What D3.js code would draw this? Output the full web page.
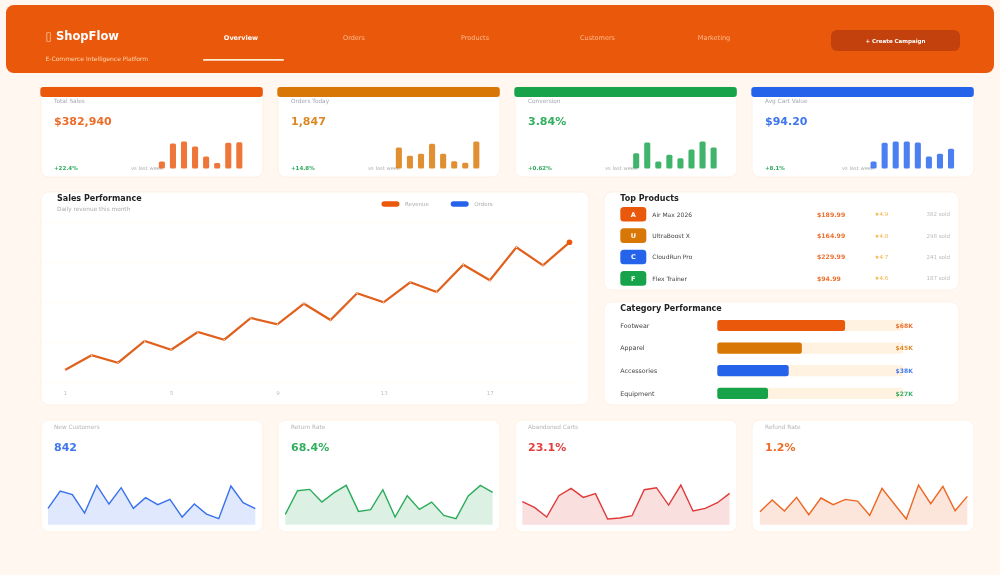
<!DOCTYPE html>
<html><head><meta charset="utf-8">
<style>html,body{margin:0;padding:0;background:#fff7f0}svg{display:block;filter:blur(.35px)}text{font-family:"DejaVu Sans",sans-serif}</style>
<script src="https://cdn.jsdelivr.net/npm/d3@7/dist/d3.min.js"></script>
</head><body><svg id="c" width="1000" height="575"></svg>
<script>
const navItems=["Overview","Orders","Products","Customers","Marketing"];
const kpiLabels=["Total Sales","Orders Today","Conversion","Avg Cart Value"];
const kpiValues=["$382,940","1,847","3.84%","$94.20"];
const kpiDeltas=["+22.4%","+14.8%","+0.62%","+8.1%"];
const kpiColors=["#ea580c","#d97706","#16a34a","#2563eb"];
const kpiBars1=[7,25,27,22,12,5.5,25.7,26.3];
const kpiBars2=[21,12.7,14.7,24.7,14.7,7.3,5.7,27];
const kpiBars3=[15.3,26,7,13.7,10.3,19,27,21];
const kpiBars4=[7,25.7,27,27,26,12,14.7,19.7];
const days=d3.range(1,21);
const revenue=[1270,2740,2000,4170,3300,5070,4300,6470,5840,7900,6270,8940,8040,10040,9070,11800,10240,13540,11740,14040];
const gridTicks=[0,4000,8000,12000,16000];
const dayTicks=[1,5,9,13,17];
const productNames=["Air Max 2026","UltraBoost X","CloudRun Pro","Flex Trainer"];
const productPrices=["$189.99","$164.99","$229.99","$94.99"];
const productRatings=["★4.9","★4.8","★4.7","★4.6"];
const productSold=["382 sold","298 sold","241 sold","187 sold"];
const productColors=["#ea580c","#d97706","#2563eb","#16a34a"];
const categories=["Footwear","Apparel","Accessories","Equipment"];
const categoryValues=[68,45,38,27];
const miniLabels=["New Customers","Return Rate","Abandoned Carts","Refund Rate"];
const miniValues=["842","68.4%","23.1%","1.2%"];
const miniColors=["#2563eb","#16a34a","#dc2626","#ea580c"];
const mini1=[49,101,90,35,118,62,111,49,81,60,76,23,62,32,18,116,66,48];
const mini2=[31,102,106,68,96,118,40,45,105,23,87,46,68,28,18,86,118,97];
const mini3=[69,52,23,87,109,82,93,17,20,27,105,111,59,119,41,49,66,94];
const mini4=[39,74,41,82,30,80,60,76,71,28,109,63,17,119,63,115,42,85];

const svg=d3.select("#c");
const T=(g,x,y,s,size,fill,o={})=>g.append("text").attr("x",x).attr("y",y).text(s).attr("font-size",size).attr("fill",fill)
  .attr("font-weight",o.w||400).attr("text-anchor",o.a||"start").attr("opacity",o.o==null?1:o.o);
const card=(x,y,w,h)=>svg.append("rect").attr("x",x).attr("y",y).attr("width",w).attr("height",h).attr("rx",8).attr("fill","#fff").attr("stroke","#fdeee1").attr("stroke-width",.8);

// header
svg.append("rect").attr("x",6).attr("y",5).attr("width",988).attr("height",68).attr("rx",8).attr("fill","#ea580c");
T(svg,45.5,40,"▯",11.5,"#fed7aa");
T(svg,56,40,"ShopFlow",11.5,"#fff",{w:700});
T(svg,45.5,61,"E-Commerce Intelligence Platform",6,"#fed7aa");
const navX=[241,354,475,597.5,714];
navItems.forEach((n,i)=>T(svg,navX[i],40.3,n,6.5,i?"#fdba8c":"#fff",{a:"middle",w:i?400:700}));
svg.append("rect").attr("x",203).attr("y",59).attr("width",81).attr("height",1.8).attr("rx",1).attr("fill","#ffedd5");
svg.append("rect").attr("x",831).attr("y",30).attr("width",129).attr("height",21).attr("rx",6).attr("fill","#c2410c");
T(svg,895.5,43,"+ Create Campaign",5.5,"#fff",{a:"middle",w:700});

// KPI cards
const kpiX=[41,278,515,752];
const kpiSeries=[kpiBars1,kpiBars2,kpiBars3,kpiBars4];
const barFirst=[162,399,636.3,873.7];
const barH=d3.scaleLinear().domain([0,27]).range([168.5,141.5]);
kpiX.forEach((x,i)=>{
  card(x,87,222,90);
  svg.append("rect").attr("x",x-.7).attr("y",87).attr("width",222.5).attr("height",10).attr("rx",3).attr("fill",kpiColors[i]);
  T(svg,x+13,103,kpiLabels[i],5.8,"#a3a8b4");
  T(svg,x+13,124.5,kpiValues[i],11,kpiColors[i],{w:700,o:.88});
  T(svg,x+13,170,kpiDeltas[i],5.5,"#16a34a",{w:700,o:.9});
  T(svg,x+90,170.2,"vs last week",5.2,"#b0b0b0");
  const bx=d3.scaleBand().domain(d3.range(8)).range([barFirst[i]-5.6,barFirst[i]-5.6+88.4]).paddingInner(0.45).paddingOuter(0.22);
  svg.append("g").selectAll("rect").data(kpiSeries[i]).join("rect")
    .attr("x",(d,j)=>bx(j)).attr("width",bx.bandwidth()).attr("y",d=>barH(d)).attr("height",d=>barH(0)-barH(d))
    .attr("rx",1.5).attr("fill",kpiColors[i]).attr("opacity",.82);
});

// main chart
card(41,192,548,213);
T(svg,57,200.5,"Sales Performance",8,"#222",{w:700});
T(svg,57,210.5,"Daily revenue this month",5.8,"#aaa");
const xm=d3.scaleLinear().domain([1,20]).range([65,569.5]);
const ym=d3.scaleLinear().domain([0,16000]).range([382.7,222.7]);
svg.append("g").selectAll("line").data(gridTicks).join("line")
  .attr("x1",42).attr("x2",578).attr("y1",d=>ym(d)).attr("y2",d=>ym(d)).attr("stroke","#fff8f1").attr("stroke-width",.8);
const xAxis=d3.axisBottom(xm).tickValues(dayTicks).tickSize(0).tickPadding(0).tickFormat(d3.format("d"));
const ax=svg.append("g").attr("transform","translate(0,391)").call(xAxis);
ax.select(".domain").remove();
ax.selectAll("text").attr("font-size",5.5).attr("fill","#bdbdbd").attr("font-family",'"DejaVu Sans",sans-serif');
svg.append("path").datum(revenue).attr("d",d3.line().x((d,i)=>xm(days[i])).y(d=>ym(d)))
  .attr("fill","none").attr("stroke","#e0601c").attr("stroke-width",2.2).attr("stroke-linejoin","miter");
svg.append("g").selectAll("circle").data(revenue).join("circle")
  .attr("cx",(d,i)=>xm(days[i])).attr("cy",d=>ym(d)).attr("r",(d,i)=>i===19?2.8:.7)
  .attr("fill",(d,i)=>i===19?"#ea580c":"#ffe9dc");
[[381.5,"Revenue","#ea580c"],[450.7,"Orders","#2563eb"]].forEach(([x,s,c])=>{
  svg.append("rect").attr("x",x).attr("y",201.3).attr("width",18).attr("height",5.5).attr("rx",2.7).attr("fill",c);
  T(svg,x+23.5,206.2,s,5.5,"#aaa");
});

// top products
card(604,192,355,98);
T(svg,620.3,200.5,"Top Products",8,"#222",{w:700});
const yp=d3.scalePoint().domain(productNames).range([214.3,278.4]);
productNames.forEach((n,i)=>{
  const y=yp(n);
  svg.append("rect").attr("x",620.3).attr("y",y-7.3).attr("width",26).attr("height",14.6).attr("rx",3.5).attr("fill",productColors[i]);
  T(svg,633.3,y+2.2,n[0],6.5,"#fff",{a:"middle",w:700});
  T(svg,652.3,y+2.2,n,6,"#444");
  T(svg,817,y+2.2,productPrices[i],6.2,"#ea580c",{w:700,o:.85});
  T(svg,874.5,y+2,productRatings[i],5.5,"#f5b040");
  T(svg,950,y+2,productSold[i],5.5,"#bbb",{a:"end"});
});

// category performance
card(604,302,355,103);
T(svg,620.3,310.5,"Category Performance",8,"#222",{w:700});
const xc=d3.scaleLinear().domain([0,99]).range([717.3,903.3]);
const yc=d3.scalePoint().domain(categories).range([325.5,393.3]);
categories.forEach((n,i)=>{
  const y=yc(n),c=productColors[i];
  T(svg,620.3,y+2.2,n,6.3,"#444");
  svg.append("rect").attr("x",xc(0)).attr("y",y-5.6).attr("width",xc(99)-xc(0)).attr("height",11.2).attr("rx",2.5).attr("fill","#ffedd5").attr("opacity",.75);
  svg.append("rect").attr("x",xc(0)).attr("y",y-5.6).attr("width",xc(categoryValues[i])-xc(0)).attr("height",11.2).attr("rx",2.5).attr("fill",c);
  T(svg,912.8,y+2.2,"$"+categoryValues[i]+"K",6,c,{a:"end",w:700,o:.85});
});

// mini cards
const miniSeries=[mini1,mini2,mini3,mini4];
const miniFirst=[48,285.3,522.3,760];
const ys=d3.scaleLinear().domain([0,120]).range([524.7,484.7]);
kpiX.forEach((x,i)=>{
  card(x,420,222,112);
  T(svg,x+13,428.5,miniLabels[i],5.8,"#b5b5bb");
  T(svg,x+13,451,miniValues[i],11,miniColors[i],{w:700,o:.88});
  const xs=d3.scaleLinear().domain([0,17]).range([miniFirst[i],miniFirst[i]+207.3]);
  svg.append("path").datum(miniSeries[i]).attr("d",d3.area().x((d,j)=>xs(j)).y0(ys(0)).y1(d=>ys(d)))
    .attr("fill",miniColors[i]).attr("opacity",.15);
  svg.append("path").datum(miniSeries[i]).attr("d",d3.line().x((d,j)=>xs(j)).y(d=>ys(d)))
    .attr("fill","none").attr("stroke",miniColors[i]).attr("stroke-width",1.4).attr("opacity",.9);
});
</script></body></html>
